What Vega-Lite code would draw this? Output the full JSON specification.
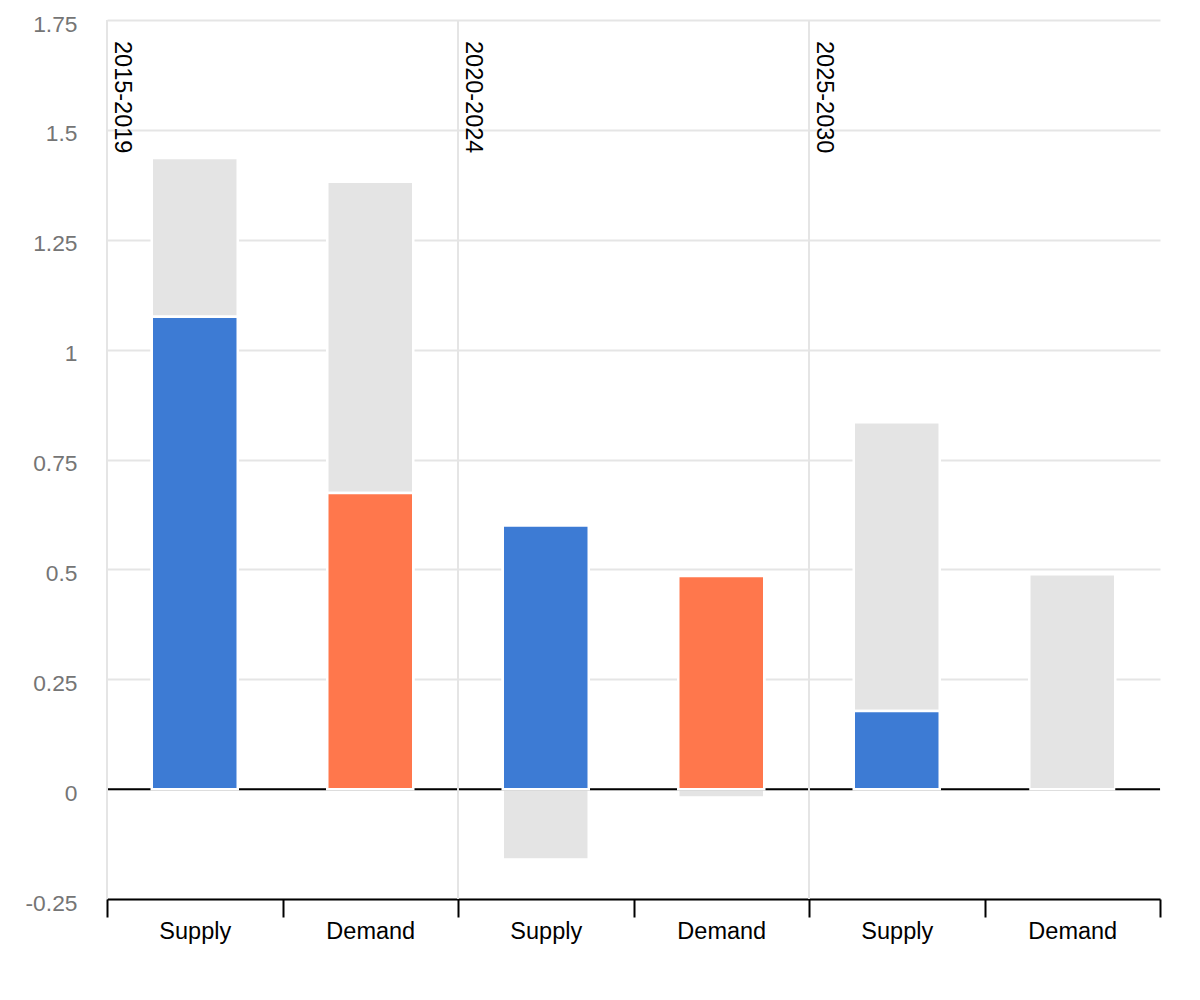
{
  "$schema": "https://vega.github.io/schema/vega-lite/v6.json",
  "width": 1053,
  "height": 879,
  "autosize": {"type": "none"},
  "padding": {"left": 107, "top": 20, "right": 40, "bottom": 101},
  "background": "white",
  "config": {
    "font": "Liberation Sans",
    "view": {"stroke": null}
  },
  "datasets": {
    "bars": [
      {"slot": "2015-2019|Supply", "part": "supply", "ord": 1, "value": 1.075},
      {"slot": "2015-2019|Supply", "part": "range", "ord": 2, "value": 0.361},
      {"slot": "2015-2019|Demand", "part": "demand", "ord": 1, "value": 0.674},
      {"slot": "2015-2019|Demand", "part": "range", "ord": 2, "value": 0.708},
      {"slot": "2020-2024|Supply", "part": "supply", "ord": 1, "value": 0.600},
      {"slot": "2020-2024|Supply", "part": "range", "ord": 2, "value": -0.160},
      {"slot": "2020-2024|Demand", "part": "demand", "ord": 1, "value": 0.485},
      {"slot": "2020-2024|Demand", "part": "range", "ord": 2, "value": -0.019},
      {"slot": "2025-2030|Supply", "part": "supply", "ord": 1, "value": 0.178},
      {"slot": "2025-2030|Supply", "part": "range", "ord": 2, "value": 0.657},
      {"slot": "2025-2030|Demand", "part": "demand", "ord": 1, "value": 0},
      {"slot": "2025-2030|Demand", "part": "range", "ord": 2, "value": 0.489}
    ],
    "periods": [
      {"slot": "2015-2019|Supply", "period": "2015-2019"},
      {"slot": "2020-2024|Supply", "period": "2020-2024"},
      {"slot": "2025-2030|Supply", "period": "2025-2030"}
    ]
  },
  "layer": [
    {
      "data": {"name": "bars"},
      "mark": {"type": "bar", "size": 86, "stroke": "white", "strokeWidth": 2.5},
      "encoding": {
        "x": {
          "field": "slot",
          "type": "nominal",
          "sort": null,
          "scale": {"paddingInner": 0, "paddingOuter": 0},
          "axis": {
            "title": null,
            "labelExpr": "split(datum.label, '|')[1]",
            "labelAngle": 0,
            "labelFontSize": 23.5,
            "labelColor": "#000000",
            "labelPadding": 2,
            "tickBand": "extent",
            "tickSize": 18,
            "tickWidth": 2,
            "tickColor": "#000000",
            "domainColor": "#000000",
            "domainWidth": 2,
            "grid": false
          }
        },
        "y": {
          "field": "value",
          "type": "quantitative",
          "stack": "zero",
          "scale": {"domain": [-0.25, 1.75], "nice": false, "zero": false},
          "axis": {
            "title": null,
            "values": [-0.25, 0, 0.25, 0.5, 0.75, 1, 1.25, 1.5, 1.75],
            "labelExpr": "'' + datum.value",
            "labelFontSize": 22.8,
            "labelColor": "#757575",
            "labelPadding": 30,
            "labelOffset": 4,
            "ticks": false,
            "domain": false,
            "gridColor": "#e5e5e5",
            "gridWidth": 2
          }
        },
        "order": {"field": "ord"},
        "color": {
          "field": "part",
          "type": "nominal",
          "scale": {
            "domain": ["supply", "demand", "range"],
            "range": ["#3d7bd4", "#ff774c", "#e4e4e4"]
          },
          "legend": null
        }
      }
    },
    {
      "data": {"values": [{"zero": 0}]},
      "mark": {"type": "rule", "color": "#000000", "strokeWidth": 2},
      "encoding": {"y": {"field": "zero", "type": "quantitative"}}
    },
    {
      "data": {"name": "periods"},
      "mark": {"type": "rule", "color": "#e5e5e5", "strokeWidth": 2},
      "encoding": {"x": {"field": "slot", "type": "nominal", "sort": null, "bandPosition": 0}}
    },
    {
      "data": {"name": "bars"},
      "transform": [{"filter": "datum.ord == 1"}],
      "mark": {"type": "bar", "size": 86, "stroke": "white", "strokeWidth": 2.5},
      "encoding": {
        "x": {"field": "slot", "type": "nominal", "sort": null},
        "y": {"field": "value", "type": "quantitative"},
        "color": {"field": "part", "type": "nominal", "legend": null}
      }
    },
    {
      "data": {"name": "periods"},
      "mark": {
        "type": "text",
        "angle": 90,
        "align": "left",
        "baseline": "alphabetic",
        "dx": 21,
        "dy": -8,
        "fontSize": 23.5,
        "color": "#000000"
      },
      "encoding": {
        "x": {"field": "slot", "type": "nominal", "sort": null, "bandPosition": 0},
        "y": {"datum": 1.75},
        "text": {"field": "period"}
      }
    }
  ]
}
